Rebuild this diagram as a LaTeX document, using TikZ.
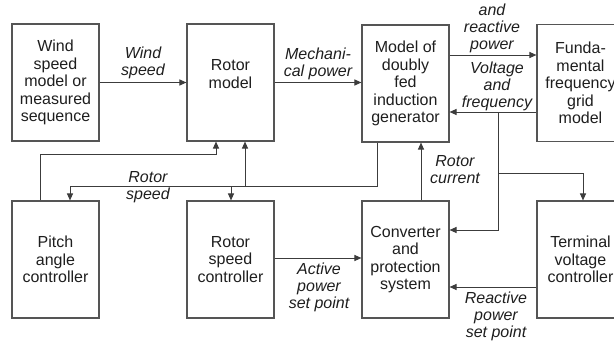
\documentclass[tikz,border=0pt]{standalone}
\usepackage{fontspec}
\setmainfont{Liberation Sans}
\usetikzlibrary{arrows.meta}
\definecolor{linec}{HTML}{3C3C3C}
\definecolor{boxc}{HTML}{555555}
\definecolor{txtc}{HTML}{1E1E1E}
\begin{document}
\begin{tikzpicture}[x=1pt,y=-1pt,
  box/.style={draw=boxc,line width=1.1pt,minimum width=87pt,minimum height=117pt,inner sep=0pt,align=center,text=txtc,font=\fontsize{16}{17.5}\selectfont},
  lbl/.style={align=center,text=txtc,font=\fontsize{16}{17}\selectfont\itshape,inner sep=0pt},
  arr/.style={draw=linec,line width=1pt,-{Triangle[length=7pt,width=6pt]}},
  ln/.style={draw=linec,line width=1pt}]
\useasboundingbox (0,0) rectangle (614,343);
\clip (0,0) rectangle (614,343);
% boxes
\node[box] (wind)  at (55.5,82.5)  {Wind\\speed\\model or\\measured\\sequence};
\node[box] (rotor) at (230.5,82.5) {Rotor\\model\\\mbox{}};
\node[box] (dfig)  at (405.5,83.5) {Model of\\doubly\\fed\\induction\\generator};
\node[box] (grid)  at (580.5,83)   {Funda-\\mental\\frequency\\grid\\model};
\node[box] (pitch) at (55.5,259.5) {Pitch\\angle\\controller};
\node[box] (rsc)   at (230.5,259.5) {Rotor\\speed\\controller};
\node[box] (conv)  at (405.5,259.5) {Converter\\and\\protection\\system};
\node[box] (term)  at (580.5,259.5) {Terminal\\voltage\\controller};
% helper coordinates
\coordinate (y55) at (0,55);
\coordinate (vf) at (498,112);
\coordinate (vfc) at (498,230);
\coordinate (tv) at (498,173);
\coordinate (tvc) at (583,173);
\coordinate (rc) at (421,0);
\coordinate (rs1) at (377,186);
\coordinate (rs2) at (70,186);
\coordinate (rsj1) at (231,186);
\coordinate (rsj2) at (245,186);
\coordinate (pa1) at (40,154);
\coordinate (pa2) at (216,154);
\coordinate (ap) at (0,258);
\coordinate (rp) at (0,287);
% connectors
\draw[arr] (wind) -- (rotor);
\draw[arr] (rotor.east) -- (rotor.east -| dfig.west);
\draw[arr] (dfig.east |- y55) -- (grid.west |- y55);
\draw[arr] (grid.west |- vf) -- (dfig.east |- vf);
\draw[arr] (vf) |- (conv.east |- vfc);
\draw[arr] (tv) -| (term.north -| tvc);
\draw[arr] (conv.north -| rc) -- (dfig.south -| rc);
\draw[ln] (dfig.south -| rs1) -- (rs1) -- (rs2);
\draw[arr] (rs2) -- (pitch.north -| rs2);
\draw[arr] (rsj1) -- (rsc.north -| rsj1);
\draw[arr] (rsj2) -- (rotor.south -| rsj2);
\draw[arr] (pitch.north -| pa1) -- (pa1) -- (pa2) -- (rotor.south -| pa2);
\draw[arr] (rsc.east |- ap) -- (conv.west |- ap);
\draw[arr] (term.west |- rp) -- (conv.east |- rp);
% labels
\node[lbl] (lwind) at (143,63) {Wind\\speed};
\node[lbl] (lmech) at (318,64) {Mechani-\\cal power};
\node[lbl] (lact) at (492,28) {and\\reactive\\power};
\node[lbl] (lvolt) at (497,86) {Voltage\\and\\frequency};
\node[lbl] (lrc) at (455,170) {Rotor\\current};
\node[lbl] (lrs) at (148,187) {Rotor\\speed};
\node[lbl] (lap) at (319,287) {Active\\power\\set point};
\node[lbl] (lrp) at (496,316) {Reactive\\power\\set point};
\end{tikzpicture}
\end{document}
